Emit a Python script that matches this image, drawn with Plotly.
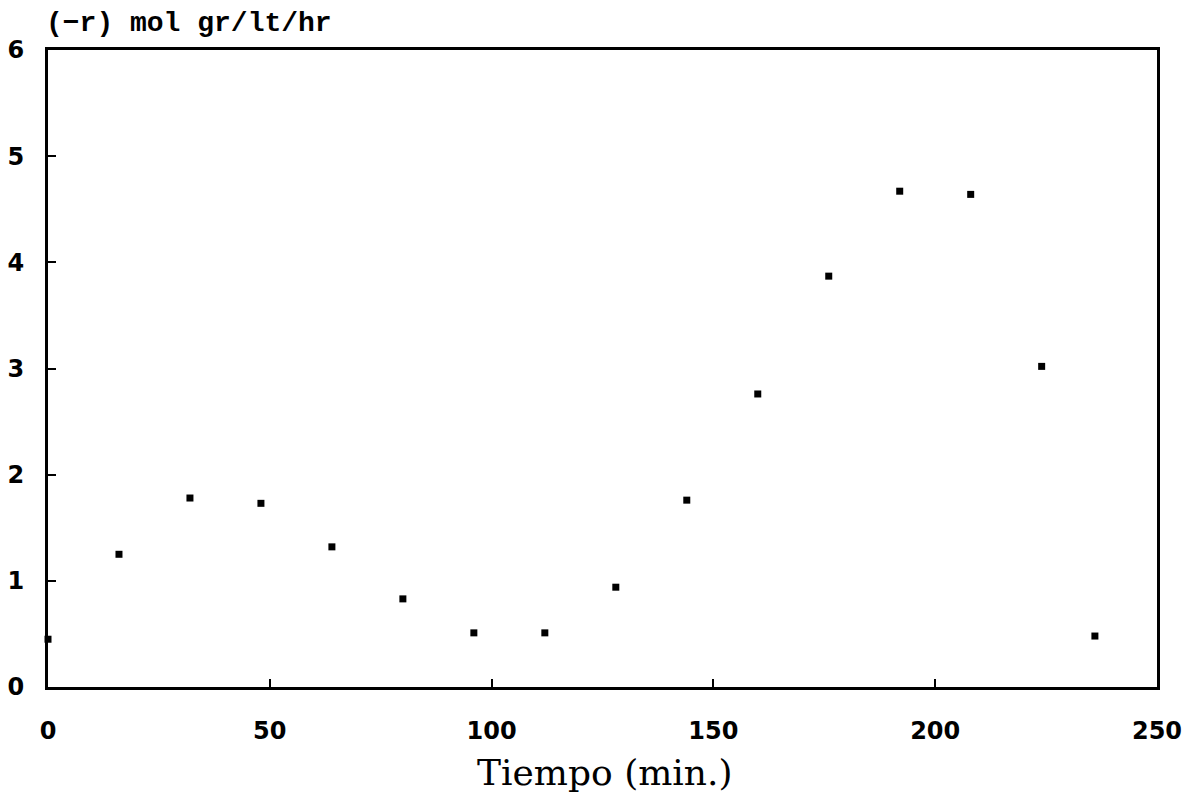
import plotly.graph_objects as go

tiempo = [0, 16, 32, 48, 64, 80, 96, 112, 128, 144, 160, 176, 192, 208, 224, 236]
velocidad = [0.45, 1.25, 1.78, 1.73, 1.32, 0.83, 0.51, 0.51, 0.94, 1.76, 2.76, 3.87, 4.67, 4.64, 3.02, 0.48]
x_ticks = [0, 50, 100, 150, 200, 250]
y_ticks = [0, 1, 2, 3, 4, 5, 6]

fig = go.Figure()
fig.add_trace(go.Scatter(
    x=tiempo, y=velocidad, mode="markers",
    marker=dict(symbol="square", size=7, color="black"),
    cliponaxis=False, showlegend=False,
))

tickfont = dict(family="DejaVu Sans", size=24, color="black", weight="bold")
fig.update_layout(
    width=1197, height=796,
    margin=dict(l=48, r=40, t=50, b=109),
    paper_bgcolor="white", plot_bgcolor="white",
    xaxis=dict(range=[0, 250], tickvals=x_ticks, ticks="inside", ticklen=8, tickwidth=2,
               tickcolor="black", showline=True, linecolor="black", linewidth=3, mirror=True,
               showgrid=False, zeroline=False, tickfont=tickfont, ticklabelstandoff=20,
               automargin=False),
    yaxis=dict(range=[0, 6], tickvals=y_ticks, ticks="inside", ticklen=8, tickwidth=2,
               tickcolor="black", showline=True, linecolor="black", linewidth=3, mirror=True,
               showgrid=False, zeroline=False, tickfont=tickfont, ticklabelstandoff=16,
               automargin=False),
    annotations=[
        dict(text="<b>(−r) mol gr/lt/hr</b>", xref="paper", yref="paper", x=0, y=1,
             xanchor="left", yanchor="bottom", yshift=9, xshift=-4, showarrow=False,
             font=dict(family="Liberation Mono", size=28, color="black")),
        dict(text="Tiempo (min.)", xref="paper", yref="paper", x=0.502, y=-0.134,
             xanchor="center", yanchor="middle", showarrow=False,
             font=dict(family="DejaVu Serif", size=36, color="black")),
    ],
)
fig.write_html("out.html")
